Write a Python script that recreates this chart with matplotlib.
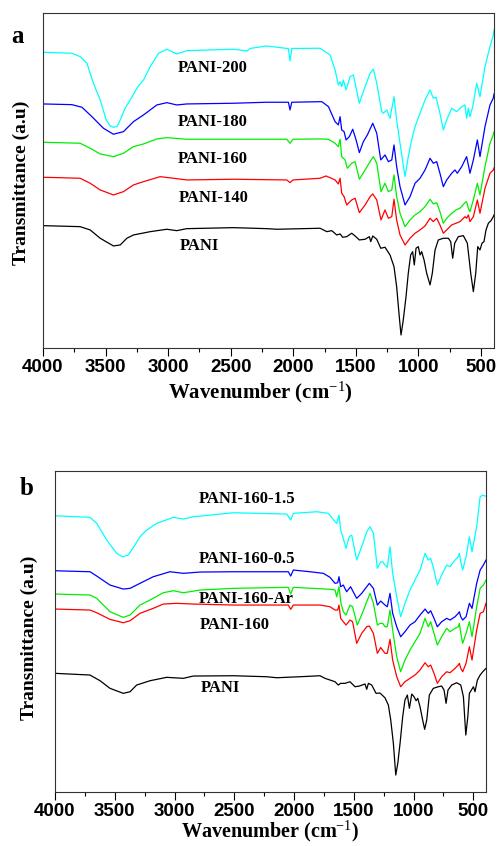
import numpy as np
import matplotlib
matplotlib.use('Agg')
import matplotlib.pyplot as plt
from matplotlib.ticker import MultipleLocator

plt.rcParams['figure.dpi'] = 100
plt.rcParams['mathtext.fontset'] = 'custom'
plt.rcParams['mathtext.rm'] = 'Liberation Serif'
plt.rcParams['mathtext.bf'] = 'Liberation Serif:bold'

# ---- panel a data (wavenumber, transmittance a.u.) ----
pani200_wn = [4000, 3769, 3703, 3649, 3597, 3543, 3495, 3463, 3437, 3407, 3383, 3343, 3303, 3250, 3197, 3143, 3077, 3010, 2931, 2851,
              2478, 2369, 2345, 2212, 2039, 2026, 2012, 1786, 1706, 1666, 1640, 1626, 1613, 1600, 1578, 1546, 1520, 1472, 1426, 1386,
              1360, 1333, 1293, 1280, 1253, 1227, 1195, 1174, 1147, 1107, 1081, 1054, 1027, 987, 947, 907, 881, 859, 828, 801,
              774, 734, 694, 654, 628, 615, 601, 588, 566, 534, 508, 468, 428, 401, 396]
pani200_t = [295.7, 294.7, 291.3, 284.7, 264.7, 248, 228, 222, 220.7, 221.5, 228, 240, 248, 259.7, 268, 281.3, 294.7, 298.7, 294, 297.3,
             298.7, 297, 299.5, 302, 299.3, 287, 299.5, 299.7, 293, 278, 263, 266.3, 261.3, 268, 258, 271.3, 273, 244.7, 261.3, 274.7,
             278.7, 264.7, 236.3, 234.7, 238, 229.7, 251.3, 228, 204.7, 171.3, 191.3, 208, 221.3, 234.7, 248, 258, 249.7, 250.7, 234.7, 218,
             228, 239.7, 236.3, 241.3, 243, 229.7, 239.7, 231.3, 241.3, 264.7, 251.3, 281.3, 301.3, 313, 318]

pani180_wn = [4000, 3769, 3689, 3609, 3517, 3437, 3357, 3277, 3197, 3090, 3010, 2931, 2851, 2478, 2212, 2039, 2026, 2012, 1772, 1719,
              1666, 1640, 1626, 1613, 1594, 1578, 1552, 1525, 1498, 1472, 1440, 1408, 1365, 1333, 1301, 1267, 1240, 1213, 1195, 1174,
              1147, 1107, 1067, 1027, 987, 947, 907, 881, 854, 828, 801, 774, 734, 708, 689, 654, 628, 615, 601, 588,
              561, 529, 508, 468, 428, 401, 396]
pani180_t = [244, 243.3, 240.7, 231.3, 219.7, 213.7, 216.3, 226.3, 233, 243, 245.3, 243, 244, 244.7, 245.7, 245.7, 238, 245.7, 246.3, 241.3,
             226.3, 223, 231.3, 218, 216.3, 208, 211.3, 218.7, 208, 195.3, 206.3, 213, 224.7, 214.7, 188, 193, 186.3, 188, 203, 181.3,
             161.3, 143, 151.3, 164.7, 169.7, 178, 189.7, 184.7, 186.3, 174.7, 161.3, 168, 174.7, 178, 174.7, 181.3, 188, 191.3, 183, 174.7,
             188, 208, 191.3, 221.3, 243, 250, 254]

pani160_wn = [4000, 3703, 3623, 3543, 3437, 3357, 3277, 3197, 3090, 3010, 2851, 2478, 2052, 2026, 2002, 1786, 1719, 1666, 1640, 1626,
              1613, 1586, 1568, 1533, 1506, 1472, 1426, 1386, 1360, 1333, 1299, 1267, 1240, 1213, 1195, 1174, 1147, 1107, 1067, 1027,
              987, 947, 907, 881, 854, 828, 801, 774, 734, 700, 668, 628, 615, 601, 588, 561, 529, 508, 468, 428, 401, 396]
pani160_t = [205.7, 204.7, 199.7, 194, 191.3, 194.7, 201.3, 204, 209, 210.3, 208.7, 208.7, 208.7, 204.7, 208.7, 209, 208.7, 204.7, 201.3, 208.7,
             191.3, 188, 179.7, 184.7, 186.3, 168.7, 178, 186.3, 191.3, 184.7, 156.3, 164.7, 156.3, 158, 173, 151.3, 134.7, 121.3, 128, 133,
             136.3, 141.3, 148.7, 144, 145.3, 136.3, 124.7, 129.7, 134.7, 138, 139.7, 145.3, 146.3, 139.7, 136.3, 148, 164.7, 153, 181.3, 204.7,
             213.5, 216]

pani140_wn = [4000, 3703, 3623, 3543, 3437, 3357, 3277, 3197, 3064, 2958, 2851, 2478, 2052, 2026, 2002, 1786, 1738, 1666, 1640, 1626,
              1613, 1594, 1573, 1533, 1506, 1472, 1426, 1386, 1365, 1333, 1299, 1267, 1240, 1213, 1195, 1174, 1147, 1107, 1067, 1027,
              987, 947, 907, 881, 854, 828, 801, 774, 734, 700, 668, 628, 615, 601, 588, 561, 529, 508, 468, 428, 401, 396]
pani140_t = [170.7, 169.7, 164.7, 158, 153, 156.3, 163, 166.3, 171.3, 169.7, 168, 168.7, 168, 165.3, 168, 169.7, 172, 168, 164, 169.7,
             154.7, 151.3, 143, 148, 149.7, 135.3, 143, 151.3, 154, 148, 128, 138, 129.7, 131.3, 148.7, 128, 113, 103, 109.7, 114.7,
             118, 122, 129.7, 126.3, 129.7, 123, 114.7, 118, 123, 124.7, 126.3, 131.3, 129.7, 133, 126.3, 131.3, 148, 134.7, 159.7, 174.7,
             178, 180]

pani_a_wn = [4000, 3703, 3623, 3543, 3437, 3383, 3330, 3277, 3143, 3010, 2931, 2851, 2478, 2212, 2130, 1786, 1732, 1692, 1653, 1626,
             1605, 1573, 1533, 1506, 1472, 1426, 1392, 1381, 1365, 1333, 1301, 1267, 1227, 1195, 1174, 1153, 1139, 1121, 1099, 1081,
             1062, 1046, 1033, 1019, 1001, 987, 974, 955, 934, 907, 889, 867, 841, 801, 761, 742, 726, 710, 681, 641,
             609, 582, 561, 542, 526, 508, 492, 476, 460, 441, 420, 401, 396]
pani_a_t = [122.3, 121.3, 118, 109.7, 102, 103, 109.7, 113, 116.3, 118.7, 117.3, 119.3, 120.3, 119.3, 118.7, 119.7, 116.3, 117.3, 113, 114,
            110.7, 111.3, 114.7, 112, 108, 108.7, 111.3, 106.3, 112, 108.7, 99.7, 100.7, 93, 81.3, 61.3, 31.3, 13, 28, 51.3, 74.7,
            93, 96.3, 83, 99.7, 101.3, 93, 96.3, 88, 74.7, 63, 74.7, 98, 108, 109.7, 109.7, 106.3, 89.7, 104.7, 111.3, 112.3,
            104.7, 74.7, 56.3, 74.7, 101.3, 98, 104.7, 106.3, 118, 124.7, 127.3, 131.3, 133]

# ---- panel b data ----
p15_wn = [4000, 3707, 3651, 3567, 3484, 3434, 3387, 3331, 3289, 3233, 3149, 3010, 2926, 2843, 2508, 2061, 2028, 2006, 1810, 1713,
          1657, 1643, 1624, 1610, 1588, 1565, 1538, 1518, 1476, 1434, 1392, 1364, 1336, 1303, 1275, 1258, 1239, 1220, 1197, 1175,
          1141, 1108, 1072, 1030, 988, 946, 904, 877, 857, 829, 801, 765, 723, 695, 653, 626, 617, 605, 589, 561,
          533, 511, 472, 443, 421, 402, 394]
p15_t = [276.3, 274.7, 268.7, 252, 238.7, 235.3, 237, 247, 255.3, 262, 268.7, 274.7, 273, 275.3, 279.3, 278, 272, 278.7, 280.3, 278.7,
         270.3, 268.7, 277, 262, 253.7, 243.7, 255.3, 257, 232, 245.3, 260.3, 265.3, 258.7, 223.7, 230, 230.3, 227, 224.7, 245.3, 218.7,
         195.3, 175.3, 188.7, 202, 212, 222, 238.7, 232, 233.7, 222, 207, 217, 227, 225.3, 232, 235.3, 238.7, 230.3, 222, 235.3,
         255.3, 240.3, 265.3, 295.3, 297, 296, 296]

p05_wn = [4000, 3707, 3651, 3540, 3429, 3372, 3289, 3178, 3038, 2926, 2787, 2508, 2048, 2028, 2006, 1866, 1755, 1699, 1657, 1635,
          1624, 1610, 1588, 1560, 1527, 1476, 1434, 1392, 1370, 1336, 1303, 1275, 1239, 1220, 1197, 1175, 1141, 1108, 1072, 1030,
          988, 946, 904, 877, 857, 829, 801, 765, 723, 695, 653, 626, 617, 605, 589, 561, 533, 511, 472, 443, 416, 394]
p05_t = [221.3, 220.3, 216, 207, 203, 203.7, 208.7, 215.3, 220.3, 218.7, 220, 220.3, 220.3, 216, 222, 220.3, 218.7, 214.7, 208.7, 209.3,
         215.3, 205.3, 207, 200.3, 205.3, 193.7, 198.7, 205.3, 208.7, 203.7, 187, 191, 187, 185.3, 198.7, 178.7, 165.3, 155.3, 160.3, 167,
         170.3, 177, 183, 178.7, 181.3, 173.7, 165.3, 170.3, 173.7, 172, 175.3, 178.7, 180.3, 175.3, 172, 175.3, 188.7, 183.7, 208.7, 222,
         227, 232]

par_wn = [4000, 3707, 3651, 3540, 3429, 3372, 3289, 3205, 3094, 3010, 2926, 2787, 2508, 2048, 2028, 2006, 1783, 1699, 1657, 1643,
          1624, 1607, 1588, 1565, 1532, 1510, 1471, 1429, 1392, 1364, 1336, 1303, 1281, 1258, 1239, 1220, 1197, 1175, 1141, 1108,
          1072, 1030, 988, 946, 904, 877, 857, 829, 801, 765, 723, 695, 653, 626, 617, 605, 589, 561, 533, 511,
          472, 443, 416, 394]
par_t = [198, 197, 193.7, 180.3, 174.7, 177, 187, 192, 199.3, 201.3, 199.3, 202, 203.7, 204.7, 198, 204.7, 203.3, 202.7, 202, 195.3,
         205.3, 188.7, 180.3, 177, 187, 185.3, 167, 178.7, 190.3, 198.7, 188.7, 167, 168.7, 168.7, 165.3, 165.3, 182, 162, 135.3, 120.3,
         132, 142, 150.3, 158.7, 173.7, 165.3, 170.3, 158.7, 147, 155.3, 163.7, 160.3, 163.7, 165.3, 168.7, 158.7, 148.7, 158.7, 170.3, 155.3,
         185.3, 203.7, 207, 212]

p160_wn = [4000, 3707, 3651, 3540, 3429, 3372, 3289, 3178, 3094, 2982, 2843, 2508, 2048, 2028, 2006, 1783, 1699, 1657, 1635, 1624,
           1610, 1588, 1565, 1532, 1510, 1476, 1434, 1392, 1370, 1336, 1303, 1275, 1239, 1220, 1197, 1175, 1141, 1108, 1072, 1030,
           988, 946, 904, 877, 857, 829, 801, 765, 723, 695, 653, 626, 617, 605, 589, 561, 533, 511, 472, 443, 416, 394]
p160_t = [183, 182, 179.3, 172.7, 169.3, 171.3, 178.7, 183.7, 188, 188.7, 188, 187, 187, 182.7, 187, 187, 185.3, 182, 182, 187,
          173.7, 170.3, 167, 172, 170.3, 148.7, 158.7, 165.3, 166, 158.7, 138.7, 144.5, 138.7, 138.7, 152.7, 132, 115.3, 105.3, 110.3, 113.7,
          117, 122, 129.3, 125.3, 127, 118.7, 108.7, 115.3, 120.3, 119.3, 123.7, 127, 128.7, 123.7, 120.3, 128.7, 145.3, 132, 162, 178.7,
          180.3, 188.7]

pani_b_wn = [4000, 3707, 3623, 3540, 3429, 3372, 3317, 3205, 3066, 2926, 2843, 2508, 2229, 2145, 1950, 1783, 1741, 1699, 1657, 1630,
             1610, 1573, 1532, 1490, 1454, 1406, 1392, 1378, 1350, 1314, 1281, 1239, 1211, 1191, 1169, 1149, 1132, 1113, 1091, 1072,
             1052, 1035, 1015, 996, 979, 965, 946, 924, 907, 890, 868, 835, 793, 765, 745, 728, 712, 681, 640, 605,
             583, 563, 546, 533, 516, 499, 486, 466, 443, 421, 394]
pani_b_t = [118.7, 117, 111.3, 103.7, 98.7, 100.3, 107, 111.3, 114.7, 113.7, 116, 116.3, 115.3, 114.3, 115.3, 116.3, 113.7, 112, 110.3, 107,
            108.7, 108.7, 110.3, 105.3, 106, 108, 102.7, 108.7, 107, 98.7, 99, 94.2, 87, 72, 48.7, 17, 28.7, 48.7, 75.3, 92,
            97, 83.7, 98, 95.3, 91.3, 93.7, 85.3, 72, 62.7, 72, 97, 103.7, 105.3, 106, 102, 88.7, 102, 107, 109.3, 107,
            95.3, 57, 75.3, 98.7, 102, 105.3, 100.3, 112, 117, 120.3, 123.7]

serif = 'Liberation Serif'
sans = 'Liberation Sans'

fig = plt.figure(figsize=(5, 8.46))
ax1 = fig.add_axes([0.086, 0.5887, 0.902, 0.396])
ax2 = fig.add_axes([0.11, 0.0638, 0.862, 0.3794])

# panel a
ax1.plot(pani200_wn, pani200_t, color='#00FFFF', lw=0.9)
ax1.plot(pani180_wn, pani180_t, color='#0000FF', lw=0.9)
ax1.plot(pani160_wn, pani160_t, color='#00EE00', lw=0.9)
ax1.plot(pani140_wn, pani140_t, color='#FF0000', lw=0.9)
ax1.plot(pani_a_wn, pani_a_t, color='black', lw=0.9)

lab_kw = dict(fontfamily=serif, fontweight='bold', fontsize=12, ha='left', va='center')
ax1.text(2920, 280, 'PANI-200', **lab_kw)
ax1.text(2920, 226, 'PANI-180', **lab_kw)
ax1.text(2920, 189, 'PANI-160', **lab_kw)
ax1.text(2915, 150, 'PANI-140', **lab_kw)
ax1.text(2905, 102.3, 'PANI', **lab_kw)
ax1.set_ylim(0, 335)
ax1.set_xlim(4000, 396)

# panel b
ax2.plot(p15_wn, p15_t, color='#00FFFF', lw=0.9)
ax2.plot(p05_wn, p05_t, color='#0000FF', lw=0.9)
ax2.plot(par_wn, par_t, color='#00EE00', lw=0.9)
ax2.plot(p160_wn, p160_t, color='#FF0000', lw=0.9)
ax2.plot(pani_b_wn, pani_b_t, color='black', lw=0.9)

ax2.text(2795, 292.7, 'PANI-160-1.5', **lab_kw)
ax2.text(2795, 232.7, 'PANI-160-0.5', **lab_kw)
ax2.text(2795, 192.7, 'PANI-160-Ar', **lab_kw)
ax2.text(2790, 167, 'PANI-160', **lab_kw)
ax2.text(2778, 103.7, 'PANI', **lab_kw)
ax2.set_ylim(0, 321)
ax2.set_xlim(4000, 394)

for ax, ly, lx, xfs in [(ax1, (-0.0488, 0.494), (0.483, -0.134), 15), (ax2, (-0.0592, 0.481), (0.5, -0.122), 14.5)]:
    ax.xaxis.set_major_locator(MultipleLocator(500))
    ax.xaxis.set_minor_locator(MultipleLocator(250))
    ax.set_yticks([])
    ax.tick_params(axis='x', which='major', direction='out', length=5.5, width=0.8, pad=2.5)
    ax.tick_params(axis='x', which='minor', direction='out', length=3, width=0.8)
    for lbl in ax.get_xticklabels():
        lbl.set_fontfamily(sans)
        lbl.set_fontweight('bold')
        lbl.set_fontsize(13.5)
    for s in ax.spines.values():
        s.set_linewidth(0.8)
        s.set_color('#333333')
    ax.set_xlabel('Wavenumber (cm$\\mathrm{^{-1}}$)', fontfamily=serif, fontweight='bold', fontsize=xfs, va='center')
    ax.xaxis.set_label_coords(*lx)
    ax.set_ylabel('Transmittance (a.u)', fontfamily=serif, fontweight='bold', fontsize=14, va='center')
    ax.yaxis.set_label_coords(*ly)

fig.text(0.036, 0.9563, 'a', fontfamily=serif, fontweight='bold', fontsize=18, va='center', ha='center')
fig.text(0.0534, 0.4228, 'b', fontfamily=serif, fontweight='bold', fontsize=18, va='center', ha='center')

plt.savefig('out.png', dpi=100)
plt.close()
